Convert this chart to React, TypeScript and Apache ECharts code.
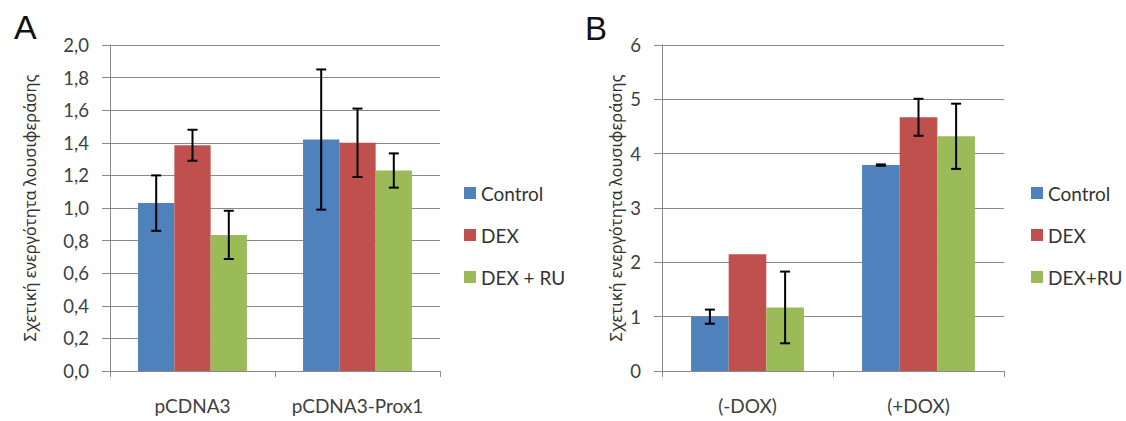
import React, { useEffect, useRef } from "react";
import * as echarts from "echarts";

const categoriesA = ["pCDNA3", "pCDNA3-Prox1"];
const seriesNamesA = ["Control", "DEX", "DEX + RU"];
const controlA = [1.03, 1.42];
const dexA = [1.385, 1.40];
const dexRuA = [0.835, 1.23];
const errControlA = [0.17, 0.43];
const errDexA = [0.095, 0.21];
const errDexRuA = [0.148, 0.105];

const categoriesB = ["(-DOX)", "(+DOX)"];
const seriesNamesB = ["Control", "DEX", "DEX+RU"];
const controlB = [1.0, 3.79];
const dexB = [2.15, 4.67];
const dexRuB = [1.17, 4.32];
const errControlB = [0.13, 0.012];
const errDexB = [null, 0.34];
const errDexRuB = [0.66, 0.6];

const yTicksA = { min: 0, max: 2, interval: 0.2 };
const yTicksB = { min: 0, max: 6, interval: 1 };

const COLORS = ["#4F81BD", "#C0504D", "#9BBB59"];
const GAP = 0.34;
const FONT = "Lato, 'Noto Sans', sans-serif";
const GREEK_FONT = "'Noto Sans', 'DejaVu Sans', sans-serif";

function errData(vals: number[][], errs: (number | null)[][]) {
  const out: number[][] = [];
  vals.forEach((series, si) => {
    series.forEach((v, ci) => {
      const e = errs[si][ci];
      if (e !== null && e !== undefined) out.push([ci, si, v - e, v + e]);
    });
  });
  return out;
}

function renderErr(params: any, api: any) {
  const ci = api.value(0);
  const si = api.value(1);
  const lo = api.value(2);
  const hi = api.value(3);
  const center = api.coord([ci, 0])[0];
  const band = api.size([1, 0])[0];
  const groupW = band * (1 - GAP);
  const bw = groupW / 3;
  const x = center - groupW / 2 + bw * (si + 0.5);
  const yLo = api.coord([ci, lo])[1];
  const yHi = api.coord([ci, hi])[1];
  const cap = 5;
  const style = { stroke: "#000", lineWidth: 2 };
  return {
    type: "group",
    children: [
      { type: "line", shape: { x1: x, y1: yLo, x2: x, y2: yHi }, style },
      { type: "line", shape: { x1: x - cap, y1: yLo, x2: x + cap, y2: yLo }, style },
      { type: "line", shape: { x1: x - cap, y1: yHi, x2: x + cap, y2: yHi }, style },
    ],
  };
}

const axisGray = "#8a8a8a";

function xAxisCfg(data: string[], gridIndex: number) {
  return {
    type: "category",
    gridIndex,
    data,
    axisLine: { show: true, lineStyle: { color: axisGray, width: 1 } },
    axisTick: { show: true, length: 6, alignWithLabel: false, lineStyle: { color: axisGray } },
    axisLabel: { interval: 0, margin: 25, fontSize: 19, color: "#404040", fontFamily: FONT },
    splitLine: { show: false },
  };
}

function yAxisCfg(t: any, gridIndex: number, fmt: (v: number) => string, nameGap: number) {
  return {
    type: "value",
    gridIndex,
    min: t.min,
    max: t.max,
    interval: t.interval,
    name: "Σχετική ενεργότητα λουσιφεράσης",
    nameLocation: "middle",
    nameGap,
    nameTextStyle: { fontSize: 16.5, color: "#333", fontFamily: GREEK_FONT },
    axisLine: { show: true, lineStyle: { color: axisGray, width: 1 } },
    axisTick: { show: true, length: 8, lineStyle: { color: axisGray } },
    axisLabel: { margin: 21, fontSize: 18.5, color: "#404040", fontFamily: FONT, formatter: fmt },
    splitLine: { show: true, lineStyle: { color: axisGray, width: 1 } },
  };
}

function legendCfg(names: string[], left: number) {
  return {
    orient: "vertical",
    left,
    top: 177,
    data: names,
    icon: "rect",
    itemWidth: 12,
    itemHeight: 12,
    itemGap: 20,
    textStyle: { fontSize: 19, lineHeight: 22, color: "#333", fontFamily: FONT },
  };
}

export default function App() {
  const ref = useRef<HTMLDivElement>(null);
  useEffect(() => {
    if (!ref.current) return;
    const chart = echarts.init(ref.current, null, { renderer: "svg" });
    const valsA = [controlA, dexA, dexRuA];
    const valsB = [controlB, dexB, dexRuB];
    const barSeries = (names: string[], vals: number[][], idx: number) =>
      names.map((n, i) => ({
        type: "bar",
        name: n,
        xAxisIndex: idx,
        yAxisIndex: idx,
        data: vals[i],
        barGap: "0%",
        barCategoryGap: GAP * 100 + "%",
        itemStyle: { color: COLORS[i] },
        emphasis: { disabled: true },
      }));
    const option: any = {
      animation: false,
      color: COLORS,
      grid: [
        { left: 110, top: 45, width: 330, height: 326 },
        { left: 662, top: 45, width: 342, height: 326 },
      ],
      xAxis: [xAxisCfg(categoriesA, 0), xAxisCfg(categoriesB, 1)],
      yAxis: [
        yAxisCfg(yTicksA, 0, (v: number) => v.toFixed(1).replace(".", ","), 72),
        yAxisCfg(yTicksB, 1, (v: number) => String(v), 38),
      ],
      legend: [legendCfg(seriesNamesA, 459), legendCfg(seriesNamesB, 1026)],
      series: [
        ...barSeries(seriesNamesA, valsA, 0),
        ...barSeries(seriesNamesB, valsB, 1),
        {
          type: "custom",
          xAxisIndex: 0,
          yAxisIndex: 0,
          renderItem: renderErr,
          data: errData(valsA, [errControlA, errDexA, errDexRuA]),
          encode: { x: 0, y: [2, 3] },
          z: 10,
          silent: true,
        },
        {
          type: "custom",
          xAxisIndex: 1,
          yAxisIndex: 1,
          renderItem: renderErr,
          data: errData(valsB, [errControlB, errDexB, errDexRuB]),
          encode: { x: 0, y: [2, 3] },
          z: 10,
          silent: true,
        },
      ],
      graphic: [
        { type: "text", left: 14, top: 10, style: { text: "A", fontSize: 34, fill: "#111", fontFamily: "'Liberation Sans', Arial, sans-serif" } },
        { type: "text", left: 585, top: 12, style: { text: "B", fontSize: 33, fill: "#111", fontFamily: "'Liberation Sans', Arial, sans-serif" } },
      ],
    };
    chart.setOption(option);
    return () => chart.dispose();
  }, []);
  return (
    <div
      ref={ref}
      style={{ position: "fixed", left: 0, top: 0, width: 1126, height: 421, background: "#fff" }}
    />
  );
}
